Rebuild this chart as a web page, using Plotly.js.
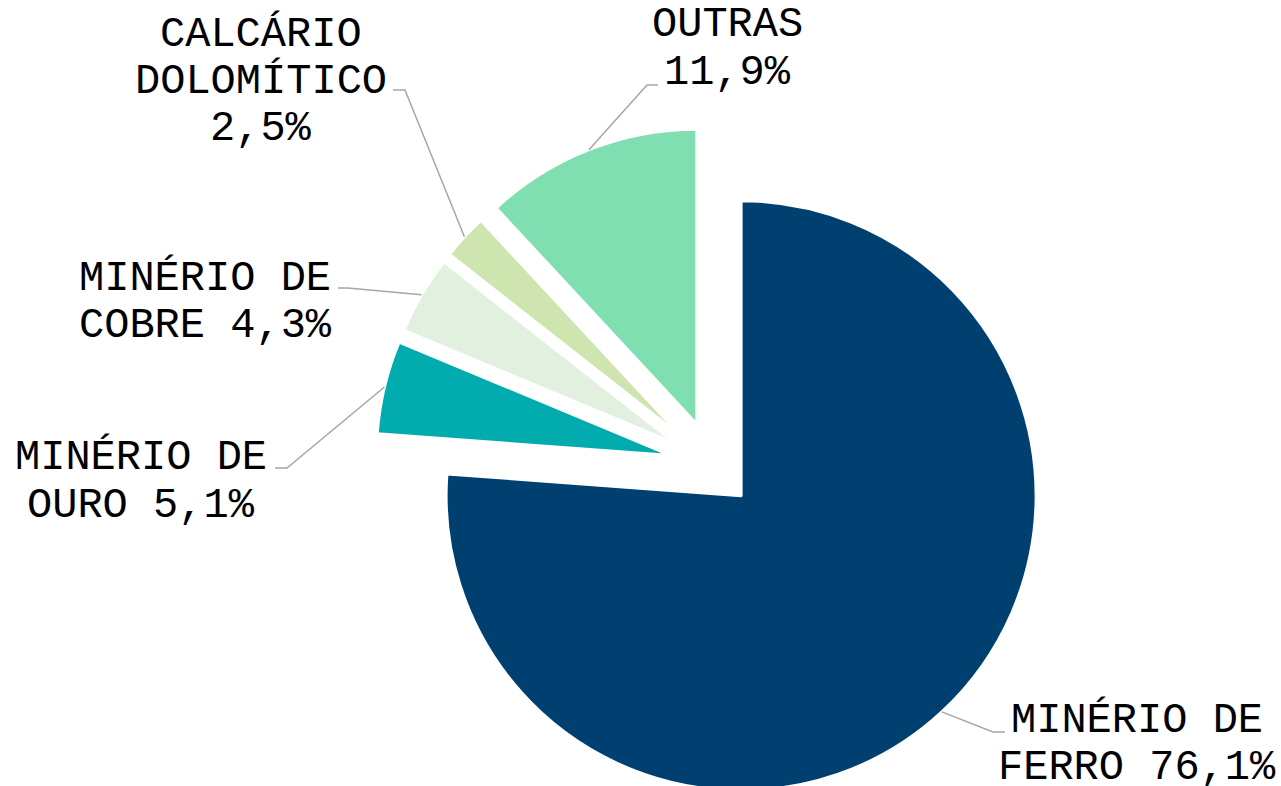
<!DOCTYPE html>
<html>
<head>
<meta charset="utf-8">
<script src="https://cdn.plot.ly/plotly-3.0.1.min.js"></script>
<style>
  html, body { margin: 0; padding: 0; overflow: hidden; background: #ffffff; }
  #chart { width: 1281px; height: 900px; }
</style>
</head>
<body>
<div id="chart"></div>
<script>
// ---- data ----
const categories = ['MINÉRIO DE FERRO', 'MINÉRIO DE OURO', 'MINÉRIO DE COBRE', 'CALCÁRIO DOLOMÍTICO', 'OUTRAS'];
const values = [76.1, 5.1, 4.3, 2.5, 11.9];
const colors = ['#004070', '#02abad', '#e2f0e0', '#cfe5b0', '#80dfb0'];
const labelLines = [
  ['MINÉRIO DE', 'FERRO 76,1%'],
  ['MINÉRIO DE', 'OURO 5,1%'],
  ['MINÉRIO DE', 'COBRE 4,3%'],
  ['CALCÁRIO', 'DOLOMÍTICO', '2,5%'],
  ['OUTRAS', '11,9%']
];

// ---- layout helpers (pixel positions of label blocks) ----
const W = 1281, H = 900;
const pulls = [0.14, 0.145, 0.145, 0.145, 0.15];
// label centre x, first baseline y
const labelPos = [
  {x: 1137, y: 732},
  {x: 141, y: 470},
  {x: 205, y: 290},
  {x: 261, y: 46},
  {x: 727, y: 37}
];
const lineGap = 47.5;
// leader line: start (near text) and elbow
const leaders = [
  {sx: 1005, sy: 732, ex: 993, ey: 732},
  {sx: 275, sy: 468, ex: 287, ey: 468},
  {sx: 338, sy: 288, ex: 348, ey: 288},
  {sx: 393, sy: 90, ex: 405, ey: 90},
  {sx: 658, sy: 85, ex: 647, ey: 85}
];

const px2x = p => p / W;
const px2y = p => 1 - p / H;

const annotations = [];
labelLines.forEach((lines, i) => {
  lines.forEach((t, j) => {
    annotations.push({
      text: t, showarrow: false,
      xref: 'paper', yref: 'paper',
      x: px2x(labelPos[i].x), y: px2y(labelPos[i].y + j * lineGap - 12),
      xanchor: 'center', yanchor: 'middle',
      font: {family: '"Liberation Mono", "Courier New", monospace', size: 42, color: '#000000'}
    });
  });
});

const trace = {
  type: 'pie',
  labels: categories,
  values: values,
  sort: false,
  direction: 'clockwise',
  rotation: 0,
  pull: pulls,
  marker: {colors: colors, line: {width: 3, color: '#ffffff'}},
  textinfo: 'none',
  hoverinfo: 'label+percent',
  showlegend: false,
  domain: {x: [0.2066, 0.9066], y: [0.1059, 0.8598]}
};

const layout = {
  width: W, height: H,
  margin: {l: 0, r: 0, t: 0, b: 0},
  paper_bgcolor: '#ffffff',
  showlegend: false,
  annotations: annotations
};

const gd = document.getElementById('chart');
Plotly.newPlot(gd, [trace], layout, {displayModeBar: false, staticPlot: true}).then(() => {
  const cd = gd.calcdata && gd.calcdata[0];
  if (!cd) return;
  const cd0 = cd[0];
  const shapes = cd.map((pt, k) => {
    const i = pt.i !== undefined ? pt.i : k;
    const f = 1 + pulls[i];
    const px = cd0.cx + pt.pxmid[0] * f;
    const py = cd0.cy + pt.pxmid[1] * f;
    const L = leaders[i];
    return {
      type: 'path', xref: 'paper', yref: 'paper',
      path: `M ${px2x(L.sx)} ${px2y(L.sy)} L ${px2x(L.ex)} ${px2y(L.ey)} L ${px2x(px)} ${px2y(py)}`,
      line: {color: '#a6a6a6', width: 1.5}
    };
  });
  Plotly.relayout(gd, {shapes: shapes});
});
</script>
</body>
</html>
